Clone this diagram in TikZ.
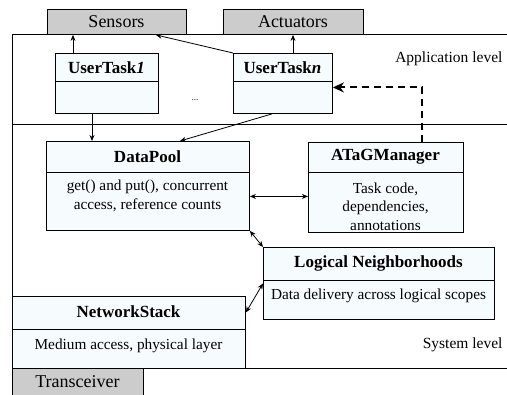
\documentclass[tikz,border=0pt]{standalone}
\usepackage{fontspec}
\setmainfont{Liberation Serif}
\newfontfamily\tnr{Liberation Serif}
\usetikzlibrary{arrows.meta,calc}
\definecolor{boxfill}{RGB}{246,252,253}
\definecolor{hwfill}{RGB}{204,204,204}
\tikzset{
  box/.style={draw, line width=0.9pt, fill=boxfill, inner sep=0pt, anchor=north west},
  hw/.style={draw, line width=0.9pt, fill=hwfill, inner sep=0pt, anchor=north west},
  hwtext/.style={font=\tnr\fontsize{18}{20}\selectfont},
  ttl/.style={font=\tnr\fontsize{17}{20}\selectfont\bfseries},
  body/.style={font=\tnr\fontsize{15.3}{18.5}\selectfont, align=center},
  lvl/.style={font=\tnr\fontsize{15.5}{18}\selectfont, anchor=base east},
  arr/.style={line width=0.8pt, -{Stealth[length=6pt,width=5pt]}},
  dblarr/.style={line width=0.8pt, {Stealth[length=6pt,width=5pt]}-{Stealth[length=6pt,width=5pt]}},
  dasharr/.style={line width=2pt, dash pattern=on 7pt off 5pt, -{Stealth[length=11pt,width=10pt]}},
  divider/.style={line width=0.9pt}
}
\begin{document}
\begin{tikzpicture}[x=1pt,y=-1pt]
\useasboundingbox (0,0) rectangle (507,395);
% frame
\draw[line width=0.9pt] (507,34) -- (12,34) -- (12,368) -- (507,368);
\draw[line width=0.9pt] (12,124) -- (507,124);
% hardware boxes
\node[hw, minimum width=139pt, minimum height=25pt] (sensors) at (47,9) {};
\node[hwtext] (sensorsT) at (116.5,22) {Sensors};
\node[hw, minimum width=140pt, minimum height=25pt] (act) at (223,9) {};
\node[hwtext] (actT) at (293,22) {Actuators};
\fill[hwfill] (12,368) rectangle (143,395);
\draw[line width=0.9pt] (12,395) -- (12,368) -- (143,368) -- (143,395);
\node[hwtext] (trans) at (77.5,382) {Transceiver};
% level labels
\node[lvl] (applvl) at (506,63) {Application level};
\node[lvl] (syslvl) at (506,349) {System level};
% UserTask1
\node[box, minimum width=103pt, minimum height=60pt] (ut1) at (55,53) {};
\draw[divider] (55,81) -- (158,81);
\node[ttl] (ut1T) at (106.5,68) {UserTask\textit{1}};
% UserTaskn
\node[box, minimum width=99pt, minimum height=60pt] (utn) at (233,53) {};
\draw[divider] (233,81) -- (332,81);
\node[ttl] (utnT) at (282.5,68) {UserTask\textit{n}};
\node[font=\tnr\fontsize{9}{10}\selectfont] (dots) at (195,100) {...};
% DataPool
\node[box, minimum width=203pt, minimum height=89pt] (dp) at (46,141) {};
\draw[divider] (46,172) -- (249,172);
\node[ttl] (dpT) at (147.5,157) {DataPool};
\node[body] (dpB) at (147.5,196) {get() and put(), concurrent\\access, reference counts};
% ATaGManager
\node[box, minimum width=155pt, minimum height=90pt] (ag) at (308,142) {};
\draw[divider] (308,172) -- (463,172);
\node[ttl] (agT) at (385.5,157) {ATaGManager};
\node[body] (agB) at (385.5,206.5) {Task code,\\dependencies,\\annotations};
% Logical Neighborhoods
\node[box, minimum width=231pt, minimum height=72pt] (ln) at (263,247) {};
\draw[divider] (263,280) -- (494,280);
\node[ttl] (lnT) at (378.5,263) {Logical Neighborhoods};
\node[body] (lnB) at (378.5,296) {Data delivery across logical scopes};
% NetworkStack
\node[box, minimum width=233pt, minimum height=72pt] (ns) at (12,296) {};
\draw[divider] (12,329) -- (245,329);
\node[ttl] (nsT) at (128.5,312) {NetworkStack};
\node[body] (nsB) at (128.5,346) {Medium access, physical layer};
% connectors
\draw[arr] ([xshift=18pt]ut1.north west) -- ([xshift=18pt]ut1.north west |- sensors.south);
\draw[arr] (utn.north west) -- ([xshift=-31pt]sensors.south east);
\draw[arr] ([xshift=60pt]utn.north west) -- ([xshift=60pt]utn.north west |- act.south);
\draw[arr] ([xshift=37pt]ut1.south west) -- ([xshift=37pt]ut1.south west |- dp.north);
\draw[arr] ([xshift=39pt]utn.south west) -- ([xshift=134pt]dp.north west);
\draw[dasharr] ([xshift=114pt]ag.north west) |- ([yshift=-4pt]utn.east);
\draw[dblarr] ([yshift=-10.5pt]dp.east) -- ([yshift=-10.5pt]dp.east -| ag.west);
\draw[dblarr] (dp.south east) -- (ln.north west);
\draw[dblarr] ([yshift=20pt]ns.east) -- (ln.west);
\end{tikzpicture}
\end{document}
